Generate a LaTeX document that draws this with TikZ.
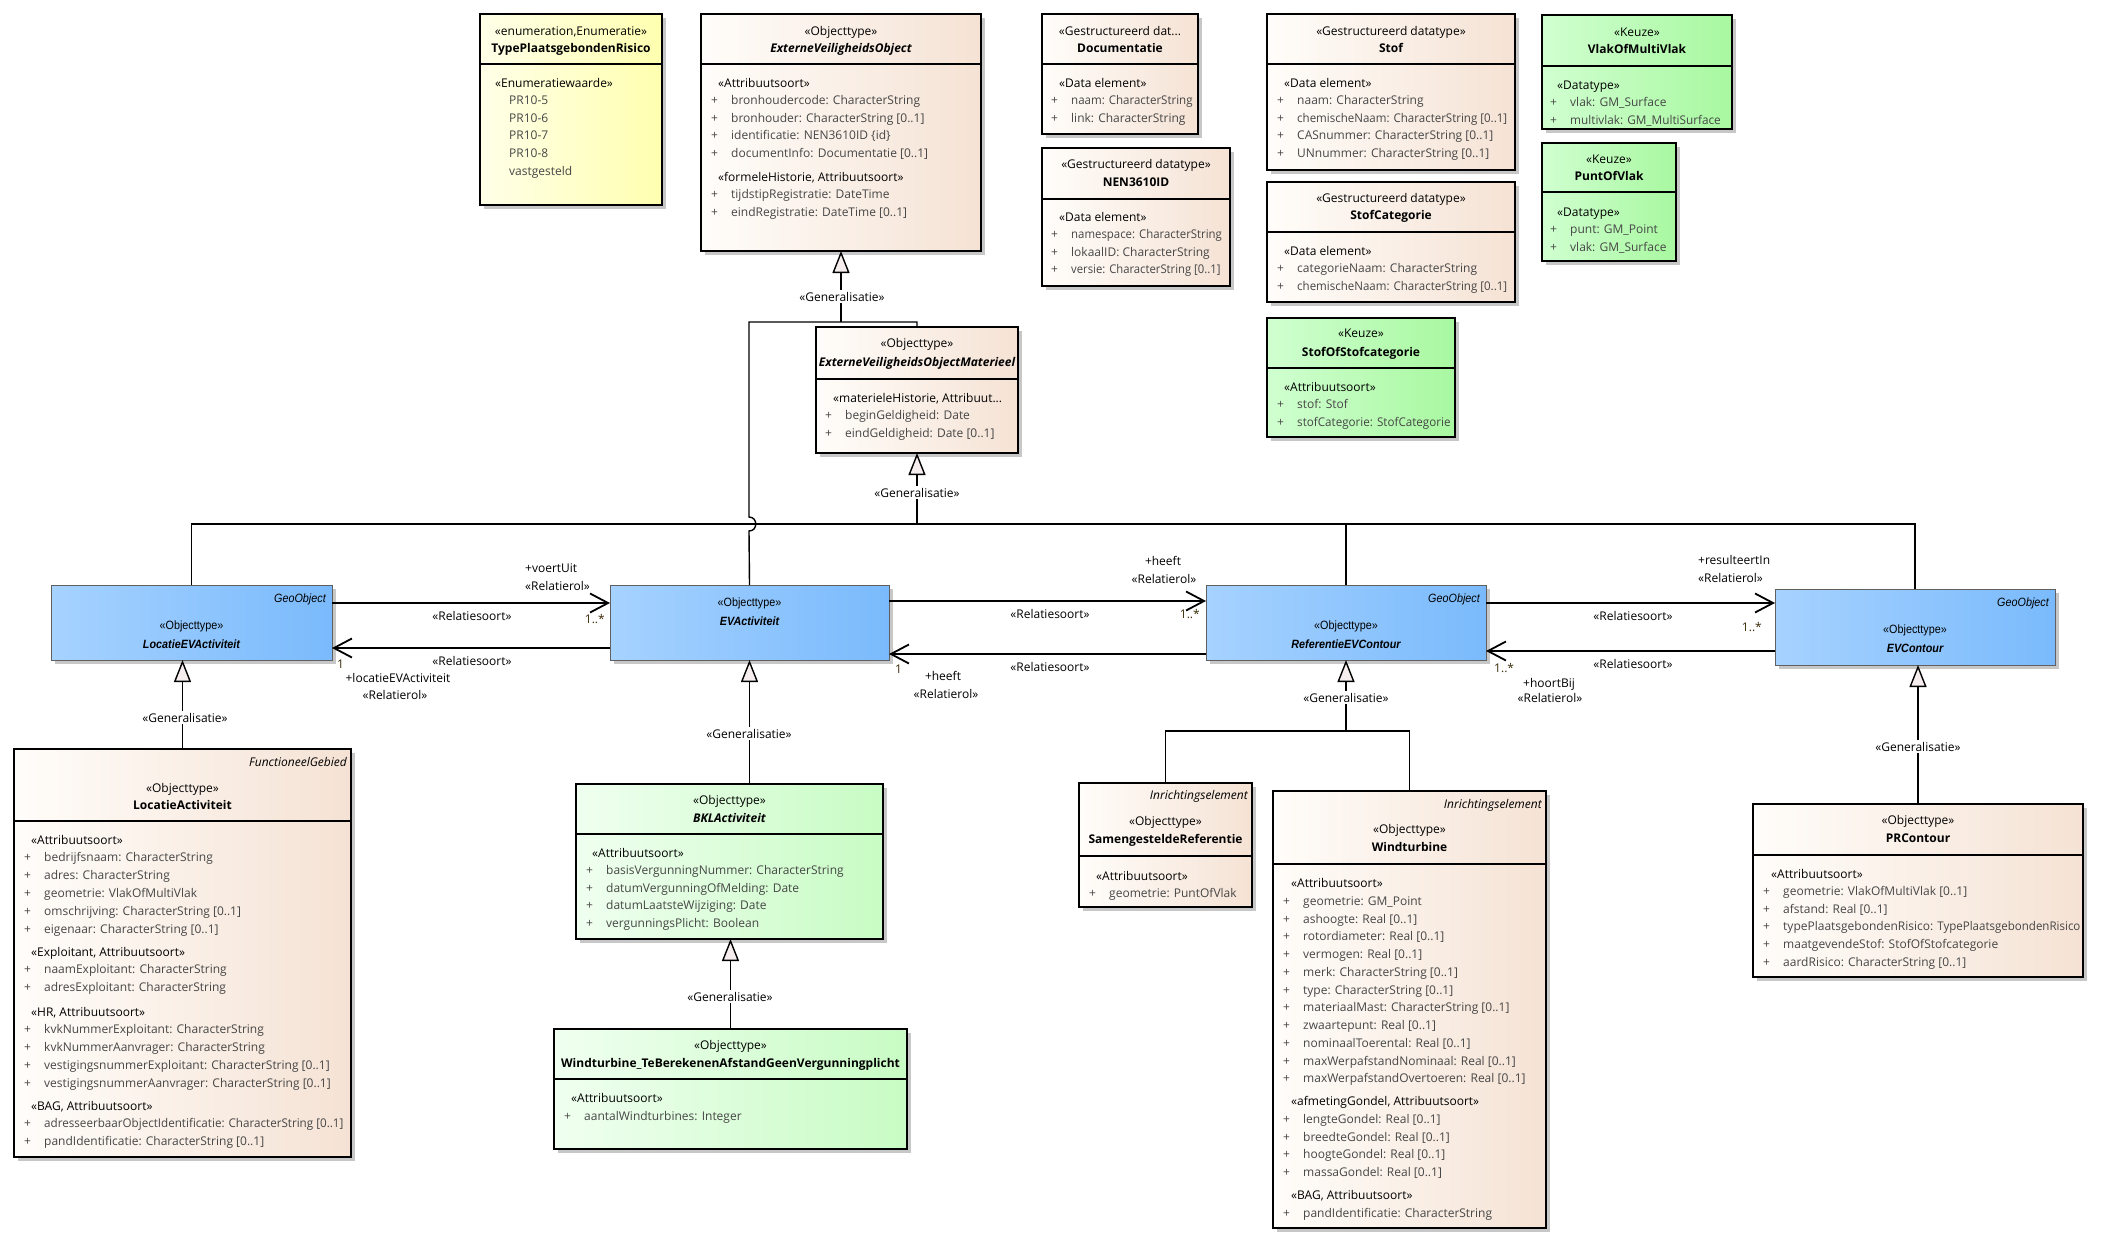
\documentclass[tikz,border=0pt]{standalone}
\usepackage{fontspec}
\setmainfont{Open Sans}
\newfontfamily\arialfont{Liberation Sans}
\usepackage{graphicx}
\usetikzlibrary{arrows.meta,shadows}

\definecolor{beigeL}{RGB}{255,253,250}
\definecolor{beigeR}{RGB}{245,226,212}
\definecolor{yelL}{RGB}{255,255,232}
\definecolor{yelR}{RGB}{255,255,176}
\definecolor{keuzeL}{RGB}{208,255,208}
\definecolor{keuzeR}{RGB}{168,248,160}
\definecolor{lgreenL}{RGB}{240,255,240}
\definecolor{lgreenR}{RGB}{200,252,196}
\definecolor{blueL}{RGB}{166,210,255}
\definecolor{blueR}{RGB}{122,186,252}
\definecolor{attrgrey}{RGB}{70,70,70}
\definecolor{genfill}{RGB}{246,238,238}
\definecolor{multcol}{RGB}{60,45,10}

\newcommand\umlfont{\fontsize{12}{14}\selectfont}
\newcommand\slim[1]{\scalebox{0.9}[1]{#1}}
\newcommand\tight[2][0.96]{\scalebox{#1}[1]{#2}}

\begin{document}
\begin{tikzpicture}[x=1pt, y=-1pt,
    box/.style={anchor=north west, inner sep=0pt, outer sep=0pt, line width=1.4pt, draw=black,
        drop shadow={shadow xshift=4pt, shadow yshift=-4pt, fill=black!22, opacity=1}},
    beigebox/.style={box, left color=beigeL, right color=beigeR},
    enumbox/.style={box, left color=yelL, right color=yelR},
    keuzebox/.style={box, left color=keuzeL, right color=keuzeR},
    greenbox/.style={box, left color=lgreenL, right color=lgreenR},
    bluebox/.style={box, draw=gray!75!black, line width=1pt, left color=blueL, right color=blueR},
    sep/.style={line width=1.4pt},
    head/.style={anchor=base, inner sep=0pt, font=\umlfont},
    cname/.style={head, font=\umlfont\bfseries},
    cnamei/.style={head, font=\umlfont\bfseries\itshape},
    grp/.style={anchor=base west, inner sep=0pt, font=\umlfont},
    attr/.style={grp, text=attrgrey, execute at begin node={\makebox[20pt][l]{+}}},
    enumval/.style={grp, text=attrgrey},
    tag/.style={anchor=base east, inner sep=0pt, font=\umlfont\itshape},
    assoc/.style={line width=1.8pt, -{Straight Barb[length=18pt,width=19pt]}},
    genline/.style={line width=1.4pt},
    gen/.style={genline, -{Triangle[length=22pt,width=17pt,fill=genfill]}},
    glabel/.style={anchor=base, fill=white, inner sep=1.5pt, font=\umlfont},
    rlabel/.style={inner sep=0pt, font=\umlfont},
    mult/.style={inner sep=0pt, font=\umlfont, text=multcol}]

    \fill[white] (0,0) rectangle (2105,1248);
    \useasboundingbox (0,0) rectangle (2105,1248);

    % TypePlaatsgebondenRisico
    \node[enumbox, minimum width=182pt, minimum height=191pt] (tpr) at (480,14) {};
    \draw[sep] (480,64) -- (662,64);
    \node[head] (tpr-s) at (571,35) {«enumeration,Enumeratie»};
    \node[cname] (tpr-n) at (571,52) {TypePlaatsgebondenRisico};
    \node[grp] (tpr-g) at (495,87) {«Enumeratiewaarde»};
    \foreach \txt [count=\i] in {PR10-5, PR10-6, PR10-7, PR10-8, vastgesteld}
        \node[enumval] (tpr-v\i) at (509,87+17.6*\i) {\txt};

    % ExterneVeiligheidsObject
    \node[beigebox, minimum width=280pt, minimum height=237pt] (evo) at (701,14) {};
    \draw[sep] (701,64) -- (981,64);
    \node[head] (evo-s) at (841,35) {«Objecttype»};
    \node[cnamei] (evo-n) at (841,52) {ExterneVeiligheidsObject};
    \node[grp] (evo-g1) at (718,87) {«Attribuutsoort»};
    \foreach \txt [count=\i] in {bronhoudercode: CharacterString, bronhouder: CharacterString [0..1], identificatie: NEN3610ID \{id\}, documentInfo: Documentatie [0..1]}
        \node[attr] (evo-a\i) at (711,87+17.6*\i) {\txt};
    \node[grp] (evo-g2) at (718,181) {«formeleHistorie, Attribuutsoort»};
    \foreach \txt [count=\i] in {tijdstipRegistratie: DateTime, eindRegistratie: DateTime [0..1]}
        \node[attr] (evo-b\i) at (711,181+17.6*\i) {\txt};

    % Documentatie
    \node[beigebox, minimum width=156pt, minimum height=120pt] (doc) at (1042,14) {};
    \draw[sep] (1042,64) -- (1198,64);
    \node[head] (doc-s) at (1120,35) {«Gestructureerd dat...};
    \node[cname] (doc-n) at (1120,52) {Documentatie};
    \node[grp] (doc-g) at (1059,87) {«Data element»};
    \foreach \txt [count=\i] in {\tight{naam: CharacterString}, link: CharacterString}
        \node[attr] (doc-a\i) at (1051,87+17.8*\i) {\txt};

    % NEN3610ID
    \node[beigebox, minimum width=188pt, minimum height=138pt] (nen) at (1042,148) {};
    \draw[sep] (1042,199) -- (1230,199);
    \node[head] (nen-s) at (1136,168) {«Gestructureerd datatype»};
    \node[cname] (nen-n) at (1136,186) {NEN3610ID};
    \node[grp] (nen-g) at (1059,221) {«Data element»};
    \foreach \txt [count=\i] in {\tight[0.95]{namespace: CharacterString}, lokaalID: CharacterString, \tight[0.94]{versie: CharacterString [0..1]}}
        \node[attr] (nen-a\i) at (1051,221+17.6*\i) {\txt};

    % Stof
    \node[beigebox, minimum width=248pt, minimum height=156pt] (stof) at (1267,14) {};
    \draw[sep] (1267,64) -- (1515,64);
    \node[head] (stof-s) at (1391,35) {«Gestructureerd datatype»};
    \node[cname] (stof-n) at (1391,52) {Stof};
    \node[grp] (stof-g) at (1284,87) {«Data element»};
    \foreach \txt [count=\i] in {naam: CharacterString, \tight{chemischeNaam: CharacterString [0..1]}, CASnummer: CharacterString [0..1], UNnummer: CharacterString [0..1]}
        \node[attr] (stof-a\i) at (1277,87+17.6*\i) {\txt};

    % StofCategorie
    \node[beigebox, minimum width=248pt, minimum height=120pt] (stc) at (1267,182) {};
    \draw[sep] (1267,232) -- (1515,232);
    \node[head] (stc-s) at (1391,202) {«Gestructureerd datatype»};
    \node[cname] (stc-n) at (1391,219) {StofCategorie};
    \node[grp] (stc-g) at (1284,255) {«Data element»};
    \foreach \txt [count=\i] in {categorieNaam: CharacterString, \tight{chemischeNaam: CharacterString [0..1]}}
        \node[attr] (stc-a\i) at (1277,255+17.6*\i) {\txt};

    % VlakOfMultiVlak
    \node[keuzebox, minimum width=190pt, minimum height=114pt] (vmv) at (1542,15) {};
    \draw[sep] (1542,66) -- (1732,66);
    \node[head] (vmv-s) at (1637,36) {«Keuze»};
    \node[cname] (vmv-n) at (1637,53) {VlakOfMultiVlak};
    \node[grp] (vmv-g) at (1557,89) {«Datatype»};
    \foreach \txt [count=\i] in {vlak: GM\_Surface, \tight[0.98]{multivlak: GM\_MultiSurface}}
        \node[attr] (vmv-a\i) at (1550,89+17.6*\i) {\txt};

    % PuntOfVlak
    \node[keuzebox, minimum width=134pt, minimum height=118pt] (pov) at (1542,143) {};
    \draw[sep] (1542,192) -- (1676,192);
    \node[head] (pov-s) at (1609,163) {«Keuze»};
    \node[cname] (pov-n) at (1609,180) {PuntOfVlak};
    \node[grp] (pov-g) at (1557,216) {«Datatype»};
    \foreach \txt [count=\i] in {punt: GM\_Point, vlak: GM\_Surface}
        \node[attr] (pov-a\i) at (1550,216+17.6*\i) {\txt};

    % StofOfStofcategorie
    \node[keuzebox, minimum width=188pt, minimum height=119pt] (sos) at (1267,318) {};
    \draw[sep] (1267,368) -- (1455,368);
    \node[head] (sos-s) at (1361,337) {«Keuze»};
    \node[cname] (sos-n) at (1361,356) {StofOfStofcategorie};
    \node[grp] (sos-g) at (1284,391) {«Attribuutsoort»};
    \foreach \txt [count=\i] in {stof: Stof, \tight[0.97]{stofCategorie: StofCategorie}}
        \node[attr] (sos-a\i) at (1277,391+17.6*\i) {\txt};

    % ExterneVeiligheidsObjectMaterieel
    \node[beigebox, minimum width=202pt, minimum height=126pt] (mat) at (816,327) {};
    \draw[sep] (816,379) -- (1018,379);
    \node[head] (mat-s) at (917,347) {«Objecttype»};
    \node[cnamei] (mat-n) at (917,366) {ExterneVeiligheidsObjectMaterieel};
    \node[grp] (mat-g) at (833,402) {«materieleHistorie, Attribuut...};
    \foreach \txt [count=\i] in {beginGeldigheid: Date, eindGeldigheid: Date [0..1]}
        \node[attr] (mat-a\i) at (825,402+17.6*\i) {\txt};

    % LocatieEVActiviteit
    \node[bluebox, minimum width=281pt, minimum height=75pt] (lev) at (51,585) {};
    \node[tag] (lev-t) at (326,602) {\arialfont\slim{GeoObject}};
    \node[head] (lev-s) at (191.5,629) {\arialfont\slim{«Objecttype»}};
    \node[head] (lev-n) at (191.5,648) {\arialfont\bfseries\itshape\slim{LocatieEVActiviteit}};

    % EVActiviteit
    \node[bluebox, minimum width=279pt, minimum height=75pt] (eva) at (610,585) {};
    \node[head] (eva-s) at (749.5,606) {\arialfont\slim{«Objecttype»}};
    \node[head] (eva-n) at (749.5,625) {\arialfont\bfseries\itshape\slim{EVActiviteit}};

    % ReferentieEVContour
    \node[bluebox, minimum width=280pt, minimum height=75pt] (rec) at (1206,585) {};
    \node[tag] (rec-t) at (1480,602) {\arialfont\slim{GeoObject}};
    \node[head] (rec-s) at (1346,629) {\arialfont\slim{«Objecttype»}};
    \node[head] (rec-n) at (1346,648) {\arialfont\bfseries\itshape\slim{ReferentieEVContour}};

    % EVContour
    \node[bluebox, minimum width=280pt, minimum height=76pt] (evc) at (1775,589) {};
    \node[tag] (evc-t) at (2049,606) {\arialfont\slim{GeoObject}};
    \node[head] (evc-s) at (1915,633) {\arialfont\slim{«Objecttype»}};
    \node[head] (evc-n) at (1915,652) {\arialfont\bfseries\itshape\slim{EVContour}};

    % LocatieActiviteit
    \node[beigebox, minimum width=337pt, minimum height=408pt] (la) at (14,749) {};
    \draw[sep] (14,821) -- (351,821);
    \node[tag] (la-t) at (347,766) {FunctioneelGebied};
    \node[head] (la-s) at (182.5,792) {«Objecttype»};
    \node[cname] (la-n) at (182.5,809) {LocatieActiviteit};
    \node[grp] (la-g1) at (31,844) {«Attribuutsoort»};
    \foreach \txt [count=\i] in {bedrijfsnaam: CharacterString, adres: CharacterString, geometrie: VlakOfMultiVlak, omschrijving: CharacterString [0..1], eigenaar: CharacterString [0..1]}
        \node[attr] (la-a\i) at (24,844+17.9*\i) {\txt};
    \node[grp] (la-g2) at (31,956) {«Exploitant, Attribuutsoort»};
    \foreach \txt [count=\i] in {naamExploitant: CharacterString, adresExploitant: CharacterString}
        \node[attr] (la-b\i) at (24,956+17.9*\i) {\txt};
    \node[grp] (la-g3) at (31,1016) {«HR, Attribuutsoort»};
    \foreach \txt [count=\i] in {kvkNummerExploitant: CharacterString, kvkNummerAanvrager: CharacterString, vestigingsnummerExploitant: CharacterString [0..1], vestigingsnummerAanvrager: CharacterString [0..1]}
        \node[attr] (la-c\i) at (24,1016+17.9*\i) {\txt};
    \node[grp] (la-g4) at (31,1110) {«BAG, Attribuutsoort»};
    \foreach \txt [count=\i] in {\tight[0.97]{adresseerbaarObjectIdentificatie: CharacterString [0..1]}, pandIdentificatie: CharacterString [0..1]}
        \node[attr] (la-d\i) at (24,1110+17.9*\i) {\txt};

    % BKLActiviteit
    \node[greenbox, minimum width=307pt, minimum height=155pt] (bkl) at (576,784) {};
    \draw[sep] (576,834) -- (883,834);
    \node[head] (bkl-s) at (729.5,804) {«Objecttype»};
    \node[cnamei] (bkl-n) at (729.5,822) {BKLActiviteit};
    \node[grp] (bkl-g) at (592,857) {«Attribuutsoort»};
    \foreach \txt [count=\i] in {basisVergunningNummer: CharacterString, datumVergunningOfMelding: Date, datumLaatsteWijziging: Date, vergunningsPlicht: Boolean}
        \node[attr] (bkl-a\i) at (586,857+17.6*\i) {\txt};

    % Windturbine_TeBerekenenAfstandGeenVergunningplicht
    \node[greenbox, minimum width=353pt, minimum height=120pt] (wtg) at (554,1029) {};
    \draw[sep] (554,1079) -- (907,1079);
    \node[head] (wtg-s) at (730.5,1049) {«Objecttype»};
    \node[cname] (wtg-n) at (730.5,1067) {Windturbine\_TeBerekenenAfstandGeenVergunningplicht};
    \node[grp] (wtg-g) at (571,1102) {«Attribuutsoort»};
    \node[attr] (wtg-a1) at (564,1120) {aantalWindturbines: Integer};

    % SamengesteldeReferentie
    \node[beigebox, minimum width=173pt, minimum height=124pt] (sam) at (1079,783) {};
    \draw[sep] (1079,856) -- (1252,856);
    \node[tag] (sam-t) at (1248,799) {Inrichtingselement};
    \node[head] (sam-s) at (1165.5,825.5) {«Objecttype»};
    \node[cname] (sam-n) at (1165.5,843) {SamengesteldeReferentie};
    \node[grp] (sam-g) at (1096,880) {«Attribuutsoort»};
    \node[attr] (sam-a1) at (1089,897.6) {geometrie: PuntOfVlak};

    % Windturbine
    \node[beigebox, minimum width=273pt, minimum height=437pt] (wt) at (1273,791) {};
    \draw[sep] (1273,864) -- (1546,864);
    \node[tag] (wt-t) at (1542,808) {Inrichtingselement};
    \node[head] (wt-s) at (1409.5,833.5) {«Objecttype»};
    \node[cname] (wt-n) at (1409.5,851) {Windturbine};
    \node[grp] (wt-g1) at (1291,887.5) {«Attribuutsoort»};
    \foreach \txt [count=\i] in {geometrie: GM\_Point, ashoogte: Real [0..1], rotordiameter: Real [0..1], vermogen: Real [0..1], merk: CharacterString [0..1], type: CharacterString [0..1], materiaalMast: CharacterString [0..1], zwaartepunt: Real [0..1], nominaalToerental: Real [0..1], maxWerpafstandNominaal: Real [0..1], maxWerpafstandOvertoeren: Real [0..1]}
        \node[attr] (wt-a\i) at (1283,887.5+17.77*\i) {\txt};
    \node[grp] (wt-g2) at (1291,1105.5) {«afmetingGondel, Attribuutsoort»};
    \foreach \txt [count=\i] in {lengteGondel: Real [0..1], breedteGondel: Real [0..1], hoogteGondel: Real [0..1], massaGondel: Real [0..1]}
        \node[attr] (wt-b\i) at (1283,1105.5+17.77*\i) {\txt};
    \node[grp] (wt-g3) at (1291,1199.5) {«BAG, Attribuutsoort»};
    \node[attr] (wt-c1) at (1283,1217.3) {pandIdentificatie: CharacterString};

    % PRContour
    \node[beigebox, minimum width=330pt, minimum height=173pt] (prc) at (1753,804) {};
    \draw[sep] (1753,855) -- (2083,855);
    \node[head] (prc-s) at (1918,824) {«Objecttype»};
    \node[cname] (prc-n) at (1918,842) {PRContour};
    \node[grp] (prc-g) at (1771,878) {«Attribuutsoort»};
    \foreach \txt [count=\i] in {geometrie: VlakOfMultiVlak [0..1], afstand: Real [0..1], {typePlaatsgebondenRisico: \tight{TypePlaatsgebondenRisico}}, maatgevendeStof: StofOfStofcategorie, aardRisico: CharacterString [0..1]}
        \node[attr] (prc-a\i) at (1763,878+17.6*\i) {\txt};

    % Generalisaties
    \coordinate (j1) at (842,322);
    \coordinate (bus) at (917,524);
    \coordinate (j2) at (1346,731);
    \draw[gen] (evo.south |- j1) -- (evo.south);
    \draw[genline] (eva.north) -- (749,531) .. controls (758,531) and (758,517) .. (749,517) -- (749,322) -| (mat.north);
    \draw[gen] (bus) -- (mat.south);
    \draw[genline] (lev.north) |- (bus) -| (evc.north);
    \draw[genline] (rec.north) -- (rec.north |- bus);
    \draw[gen] (la.north) -- (la.north |- lev.south);
    \draw[gen] (eva.south |- bkl.north) -- (eva.south);
    \draw[gen] (wtg.north) -- (wtg.north |- bkl.south);
    \draw[gen] (j2) -- (rec.south);
    \draw[genline] (sam.north) |- (j2) -| (wt.north);
    \draw[gen] (prc.north) -- (prc.north |- evc.south);

    \node[glabel] (g1) at (842,301) {«Generalisatie»};
    \node[glabel] (g2) at (917,497) {«Generalisatie»};
    \node[glabel] (g3) at (185,722) {«Generalisatie»};
    \node[glabel] (g4) at (749,738) {«Generalisatie»};
    \node[glabel] (g5) at (730,1001) {«Generalisatie»};
    \node[glabel] (g6) at (1346,702) {«Generalisatie»};
    \node[glabel] (g7) at (1918,751) {«Generalisatie»};

    % Relatiesoorten
    \draw[assoc] (lev.east |- 0,603) -- (eva.west |- 0,603);
    \draw[assoc] (eva.west |- 0,648) -- (lev.east |- 0,648);
    \draw[assoc] (eva.east |- 0,601) -- (rec.west |- 0,601);
    \draw[assoc] (rec.west |- 0,654) -- (eva.east |- 0,654);
    \draw[assoc] (rec.east |- 0,603) -- (evc.west |- 0,603);
    \draw[assoc] (evc.west |- 0,651) -- (rec.east |- 0,651);

    % labels lev - eva
    \node[rlabel, anchor=base west] (r1a) at (525,572) {+voertUit};
    \node[rlabel, anchor=base west] (r1b) at (525,590) {«Relatierol»};
    \node[mult, anchor=base east] (m1a) at (605,623) {1..*};
    \node[rlabel, anchor=base] (s1a) at (472,620) {«Relatiesoort»};
    \node[rlabel, anchor=base] (s1b) at (472,665) {«Relatiesoort»};
    \node[mult, anchor=base west] (m1b) at (337,668) {1};
    \node[rlabel, anchor=base] (r1c) at (398,682) {+locatieEVActiviteit};
    \node[rlabel, anchor=base] (r1d) at (395,699) {«Relatierol»};

    % labels eva - rec
    \node[rlabel, anchor=base] (r2a) at (1163,565) {+heeft};
    \node[rlabel, anchor=base] (r2b) at (1164,583) {«Relatierol»};
    \node[mult, anchor=base east] (m2a) at (1200,618) {1..*};
    \node[rlabel, anchor=base] (s2a) at (1050,618) {«Relatiesoort»};
    \node[rlabel, anchor=base] (s2b) at (1050,671) {«Relatiesoort»};
    \node[mult, anchor=base west] (m2b) at (895,673) {1};
    \node[rlabel, anchor=base] (r2c) at (943,680) {+heeft};
    \node[rlabel, anchor=base] (r2d) at (946,698) {«Relatierol»};

    % labels rec - evc
    \node[rlabel, anchor=base west] (r3a) at (1698,564) {+resulteertIn};
    \node[rlabel, anchor=base west] (r3b) at (1698,582) {«Relatierol»};
    \node[mult, anchor=base east] (m3a) at (1762,631) {1..*};
    \node[rlabel, anchor=base] (s3a) at (1633,620) {«Relatiesoort»};
    \node[rlabel, anchor=base] (s3b) at (1633,668) {«Relatiesoort»};
    \node[mult, anchor=base west] (m3b) at (1494,672) {1..*};
    \node[rlabel, anchor=base] (r3c) at (1549,687) {+hoortBij};
    \node[rlabel, anchor=base] (r3d) at (1550,702) {«Relatierol»};
\end{tikzpicture}
\end{document}
